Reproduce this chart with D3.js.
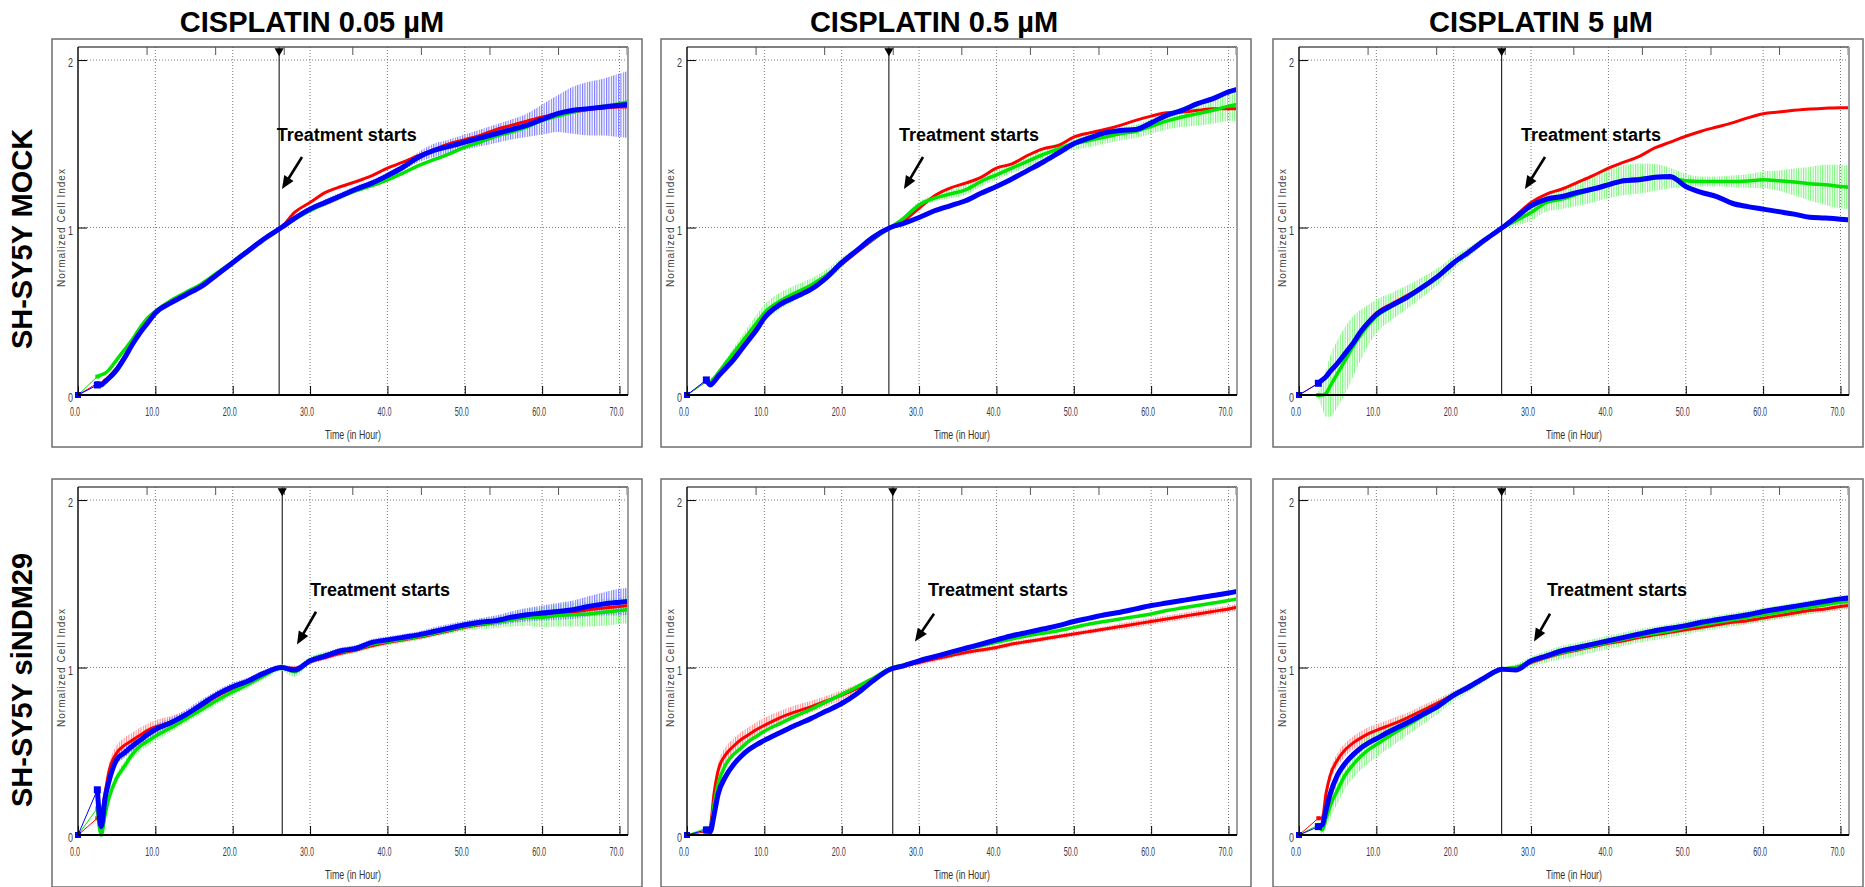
<!DOCTYPE html>
<html>
<head>
<meta charset="utf-8">
<script src="https://cdn.jsdelivr.net/npm/d3@7"></script>
<style>
body{margin:0;background:#fff;}
svg{display:block;font-family:"Liberation Sans",Arial,sans-serif;}
</style>
</head>
<body>
<div id="chart-area"></div>
<script>
// sample times in hours, shared by every panel
let times=[0,2.5,3,3.5,4,5,6,7,8,9,10, 12,14,16,18,20,22,24, 26.3, 28,30,32,34,36,38,40,42,44,46, 48,50,52,54,56,58,60,62,64,66, 68,70, 71.1];

let colTitles=["CISPLATIN 0.05 µM","CISPLATIN 0.5 µM","CISPLATIN 5 µM"];
let rowTitles=["SH-SY5Y MOCK","SH-SY5Y siNDM29"];
let xTicks=[0,10,20,30,40,50,60,70];
let yTicks=[0,1,2];
let treatStart=[26.0,26.1,26.2,26.4,26.6,26.2];

//---------MOCK, 0.05 uM----------
let mockLowRed=[0,0.07,0.07,0.09,0.11,0.16,0.23,0.31,0.38,0.44,0.495, 0.555,0.605,0.655,0.725,0.795,0.865,0.935, 1.0, 1.09,1.15,1.21,1.245,1.275,1.31,1.355,1.39,1.43,1.465, 1.50,1.525,1.55,1.585,1.61,1.635,1.66,1.68,1.69,1.705, 1.715,1.72, 1.72];
let mockLowGreen=[0,0.11,0.12,0.13,0.15,0.21,0.27,0.33,0.40,0.46,0.50, 0.565,0.615,0.665,0.73,0.795,0.865,0.93, 1.0, 1.05,1.10,1.145,1.185,1.22,1.25,1.285,1.325,1.37,1.405, 1.44,1.48,1.51,1.545,1.57,1.60,1.64,1.665,1.69,1.71, 1.725,1.74, 1.75];
let mockLowBlue=[0,0.06,0.06,0.08,0.10,0.15,0.22,0.30,0.37,0.43,0.49, 0.55,0.60,0.65,0.72,0.79,0.86,0.93, 1.0, 1.055,1.11,1.15,1.19,1.23,1.265,1.31,1.36,1.42,1.46, 1.485,1.51,1.535,1.56,1.585,1.61,1.645,1.68,1.70,1.71, 1.72,1.73, 1.735];
let mockLowBlueErr=[0,0.01,0.01,0.01,0.01,0.01,0.01,0.01,0.01,0.01,0.01, 0.01,0.01,0.01,0.01,0.01,0.01,0.01, 0.01, 0.015,0.015,0.02,0.02,0.02,0.02,0.02,0.02,0.03,0.04, 0.04,0.045,0.05,0.055,0.06,0.07,0.09,0.11,0.14,0.16, 0.17,0.19, 0.2];

//---------MOCK, 0.5 uM-----------
let mockMidRed=[0,0.08,0.07,0.09,0.12,0.17,0.23,0.29,0.35,0.41,0.47, 0.545,0.59,0.64,0.70,0.78,0.855,0.925, 1.0, 1.04,1.115,1.19,1.235,1.265,1.30,1.355,1.38,1.43,1.47, 1.49,1.54,1.565,1.585,1.61,1.64,1.665,1.685,1.69,1.70, 1.71,1.71, 1.71];
let mockMidGreen=[0,0.08,0.08,0.10,0.13,0.19,0.25,0.31,0.37,0.43,0.49, 0.56,0.61,0.655,0.715,0.79,0.865,0.93, 1.0, 1.055,1.135,1.175,1.20,1.225,1.275,1.315,1.355,1.395,1.435, 1.47,1.50,1.52,1.54,1.56,1.575,1.605,1.635,1.66,1.68, 1.70,1.725, 1.735];
let mockMidGreenErr=[0,0.01,0.02,0.02,0.02,0.02,0.03,0.04,0.045,0.05,0.05, 0.05,0.045,0.04,0.035,0.03,0.02,0.015, 0.01, 0.015,0.02,0.02,0.025,0.03,0.03,0.03,0.03,0.035,0.035, 0.035,0.035,0.04,0.04,0.04,0.04,0.045,0.05,0.06,0.07, 0.08,0.09, 0.1];
let mockMidBlue=[0,0.09,0.06,0.08,0.11,0.16,0.21,0.27,0.33,0.39,0.46, 0.54,0.585,0.63,0.70,0.79,0.865,0.94, 1.0, 1.025,1.06,1.10,1.13,1.16,1.205,1.245,1.29,1.34,1.39, 1.445,1.50,1.535,1.565,1.58,1.585,1.625,1.67,1.70,1.74, 1.77,1.81, 1.825];

//---------MOCK, 5 uM-------------
let mockHighRed=[0,0.07,0.09,0.11,0.14,0.19,0.25,0.31,0.38,0.44,0.49, 0.545,0.595,0.65,0.715,0.79,0.855,0.925, 1.0, 1.07,1.15,1.20,1.23,1.27,1.31,1.355,1.39,1.425,1.475, 1.51,1.545,1.575,1.60,1.625,1.655,1.68,1.69,1.70,1.708, 1.712,1.715, 1.715];
let mockHighGreen=[0,0,0,0.01,0.05,0.13,0.21,0.29,0.36,0.42,0.47, 0.53,0.585,0.645,0.71,0.79,0.855,0.925, 1.0, 1.04,1.09,1.15,1.17,1.20,1.23,1.26,1.283,1.293,1.30, 1.295,1.28,1.275,1.275,1.275,1.278,1.285,1.28,1.272,1.262, 1.255,1.245, 1.24];
let mockHighGreenErr=[0,0.02,0.08,0.14,0.18,0.2,0.2,0.18,0.15,0.12,0.1, 0.08,0.07,0.06,0.05,0.04,0.03,0.02, 0.01, 0.03,0.05,0.055,0.06,0.07,0.08,0.085,0.09,0.09,0.08, 0.06,0.04,0.03,0.03,0.035,0.04,0.05,0.06,0.08,0.1, 0.12,0.13, 0.13];
let mockHighBlue=[0,0.07,0.09,0.11,0.14,0.19,0.25,0.31,0.38,0.435,0.48, 0.535,0.585,0.645,0.71,0.79,0.855,0.925, 1.0, 1.06,1.13,1.17,1.185,1.21,1.23,1.255,1.28,1.285,1.30, 1.305,1.245,1.21,1.185,1.145,1.125,1.11,1.095,1.08,1.062, 1.057,1.05, 1.045];

//---------siNDM29, 0.05 uM-------
let siLowRed=[0,0.10,0.12,0.25,0.38,0.49,0.535,0.565,0.595,0.625,0.645, 0.675,0.715,0.77,0.83,0.875,0.915,0.96, 1.0, 0.995,1.035,1.06,1.085,1.105,1.13,1.15,1.165,1.18,1.20, 1.22,1.24,1.255,1.27,1.285,1.30,1.31,1.32,1.33,1.345, 1.355,1.365, 1.37];
let siLowRedErr=[0,0.01,0.02,0.03,0.04,0.045,0.045,0.045,0.045,0.04,0.04, 0.035,0.03,0.03,0.025,0.02,0.02,0.015, 0.01, 0.015,0.015,0.015,0.015,0.015,0.015,0.015,0.015,0.015,0.015, 0.015,0.015,0.015,0.015,0.02,0.02,0.02,0.02,0.02,0.02, 0.02,0.02, 0.02];
let siLowGreen=[0,0.16,0,0.12,0.22,0.34,0.41,0.48,0.53,0.56,0.59, 0.64,0.695,0.75,0.805,0.855,0.90,0.95, 1.0, 0.975,1.045,1.075,1.095,1.11,1.14,1.155,1.17,1.185,1.205, 1.225,1.245,1.26,1.27,1.285,1.30,1.30,1.31,1.315,1.32, 1.33,1.34, 1.345];
let siLowGreenErr=[0,0.02,0.02,0.03,0.03,0.03,0.03,0.03,0.03,0.03,0.03, 0.025,0.025,0.025,0.025,0.02,0.02,0.02, 0.02, 0.03,0.02,0.02,0.02,0.02,0.02,0.02,0.02,0.02,0.02, 0.025,0.025,0.03,0.035,0.04,0.05,0.06,0.065,0.07,0.075, 0.08,0.08, 0.08];
let siLowBlue=[0,0.27,0.05,0.22,0.32,0.45,0.49,0.53,0.565,0.60,0.63, 0.67,0.72,0.78,0.84,0.885,0.92,0.965, 1.0, 0.985,1.04,1.07,1.10,1.115,1.15,1.165,1.18,1.195,1.215, 1.235,1.255,1.27,1.28,1.30,1.315,1.325,1.335,1.345,1.365, 1.38,1.39, 1.395];
let siLowBlueErr=[0,0.02,0.02,0.03,0.03,0.03,0.03,0.03,0.03,0.03,0.03, 0.03,0.03,0.03,0.025,0.025,0.02,0.02, 0.01, 0.02,0.02,0.02,0.02,0.02,0.02,0.02,0.02,0.02,0.025, 0.025,0.025,0.025,0.03,0.035,0.04,0.045,0.05,0.055,0.06, 0.07,0.08, 0.08];

//---------siNDM29, 0.5 uM--------
let siMidRed=[0,0.02,0.05,0.25,0.38,0.48,0.53,0.57,0.60,0.63,0.655, 0.70,0.735,0.765,0.80,0.835,0.875,0.925, 0.99, 1.01,1.03,1.05,1.07,1.09,1.105,1.12,1.14,1.155,1.17, 1.185,1.20,1.215,1.23,1.245,1.26,1.275,1.29,1.305,1.32, 1.335,1.35, 1.36];
let siMidRedErr=[0,0.01,0.02,0.03,0.04,0.045,0.045,0.045,0.045,0.045,0.045, 0.04,0.04,0.035,0.03,0.03,0.025,0.02, 0.01, 0.015,0.015,0.015,0.015,0.015,0.015,0.015,0.015,0.015,0.015, 0.015,0.015,0.015,0.015,0.02,0.02,0.02,0.02,0.02,0.02, 0.02,0.02, 0.02];
let siMidGreen=[0,0.04,0.03,0.18,0.30,0.42,0.48,0.52,0.56,0.59,0.62, 0.665,0.71,0.75,0.795,0.84,0.885,0.935, 0.995, 1.015,1.04,1.065,1.085,1.11,1.13,1.15,1.17,1.19,1.205, 1.22,1.24,1.26,1.275,1.29,1.305,1.32,1.34,1.355,1.37, 1.385,1.40, 1.41];
let siMidBlue=[0,0.03,0.02,0.12,0.24,0.35,0.42,0.47,0.51,0.54,0.565, 0.61,0.655,0.695,0.74,0.785,0.845,0.92, 0.99, 1.01,1.04,1.065,1.09,1.115,1.14,1.165,1.19,1.21,1.23, 1.25,1.275,1.295,1.315,1.33,1.35,1.37,1.385,1.40,1.415, 1.43,1.445, 1.455];

//---------siNDM29, 5 uM----------
let siHighRed=[0,0.10,0.10,0.25,0.35,0.45,0.51,0.55,0.58,0.605,0.625, 0.66,0.70,0.745,0.79,0.84,0.885,0.935, 0.99, 1.0,1.03,1.06,1.085,1.105,1.125,1.145,1.16,1.18,1.195, 1.21,1.225,1.24,1.255,1.27,1.28,1.295,1.31,1.325,1.34, 1.35,1.365, 1.37];
let siHighRedErr=[0,0.01,0.02,0.03,0.035,0.04,0.04,0.04,0.04,0.04,0.035, 0.035,0.03,0.03,0.025,0.02,0.02,0.015, 0.01, 0.015,0.015,0.015,0.015,0.015,0.015,0.015,0.015,0.015,0.015, 0.015,0.015,0.015,0.015,0.02,0.02,0.02,0.02,0.02,0.02, 0.02,0.02, 0.02];
let siHighGreen=[0,0.06,0.03,0.10,0.17,0.27,0.36,0.42,0.47,0.51,0.54, 0.60,0.655,0.71,0.765,0.83,0.88,0.935, 0.99, 1.0,1.035,1.065,1.09,1.11,1.13,1.15,1.17,1.19,1.205, 1.22,1.24,1.255,1.27,1.285,1.30,1.315,1.33,1.345,1.36, 1.375,1.39, 1.395];
let siHighGreenErr=[0,0.02,0.03,0.05,0.07,0.08,0.08,0.08,0.08,0.08,0.075, 0.07,0.06,0.05,0.04,0.03,0.025,0.02, 0.01, 0.02,0.03,0.035,0.04,0.04,0.04,0.04,0.04,0.04,0.04, 0.04,0.04,0.04,0.04,0.04,0.04,0.04,0.04,0.04,0.04, 0.04,0.04, 0.04];
let siHighBlue=[0,0.05,0.06,0.15,0.24,0.36,0.43,0.48,0.52,0.55,0.575, 0.625,0.67,0.72,0.77,0.835,0.885,0.94, 0.99, 0.985,1.04,1.07,1.10,1.12,1.14,1.16,1.18,1.20,1.22, 1.235,1.25,1.27,1.285,1.30,1.315,1.335,1.35,1.365,1.38, 1.395,1.41, 1.415];

// "Treatment starts" note, in data units (hours, cell index)
let noteText=[[25.7,1.516],[27.4,1.516],[28.7,1.516],[30.0,1.429],[31.15,1.429],[32.06,1.429]];
let noteTail=[[28.96,1.421],[30.51,1.421],[31.8,1.421],[30.77,1.333],[31.93,1.321],[32.45,1.321]];
let noteTip=[[26.37,1.23],[28.05,1.23],[29.21,1.23],[28.31,1.137],[29.47,1.155],[30.38,1.155]];

let panels=[
	{red:mockLowRed,green:mockLowGreen,blue:mockLowBlue,err:{blue:mockLowBlueErr}},
	{red:mockMidRed,green:mockMidGreen,blue:mockMidBlue,err:{green:mockMidGreenErr}},
	{red:mockHighRed,green:mockHighGreen,blue:mockHighBlue,err:{green:mockHighGreenErr}},
	{red:siLowRed,green:siLowGreen,blue:siLowBlue,err:{red:siLowRedErr,green:siLowGreenErr,blue:siLowBlueErr}},
	{red:siMidRed,green:siMidGreen,blue:siMidBlue,err:{red:siMidRedErr}},
	{red:siHighRed,green:siHighGreen,blue:siHighBlue,err:{red:siHighRedErr,green:siHighGreenErr}}
];

//---------LAYOUT--------------
let frameX=[52,661,1273];
let frameY=[39,479];
let frameW=590,frameH=408;
let plotLeft=26,plotTop=8,plotW=550,plotH=348;
let titleX=[312,934,1541];

let seriesStyle=[
	{key:'red',color:'#ff0000',hatch:'#ff8a8a',width:3},
	{key:'green',color:'#00e400',hatch:'#7cf57c',width:3.5},
	{key:'blue',color:'#0000ff',hatch:'#7a7aff',width:5}
];

let svg=d3.select("#chart-area").append('svg')
	.attr('width',1865)
	.attr('height',887);

let defs=svg.append('defs');
seriesStyle.forEach(function(s){
	let p=defs.append('pattern')
		.attr('id','hatch-'+s.key)
		.attr('patternUnits','userSpaceOnUse')
		.attr('width',2.4).attr('height',10);
	p.append('rect').attr('width',1.1).attr('height',10).attr('fill',s.hatch);
});

//---------SCALES--------------
let x=d3.scaleLinear().domain([0,71.1]).range([0,plotW]);
let y=d3.scaleLinear().domain([0,2.078]).range([plotH,0]);
let xTop=d3.scaleLinear().domain([0,8.02]).range([0,plotW]);//sweep axis on top

let line=d3.line().x(d=>x(d[0])).y(d=>y(d[1])).curve(d3.curveMonotoneX);
let band=d3.area()
	.x(d=>x(d[0]))
	.y0(d=>y(d[1]-d[2]))
	.y1(d=>y(d[1]+d[2]))
	.curve(d3.curveMonotoneX);

//-------TITLES----------------
colTitles.forEach(function(t,i){
	svg.append('text')
		.attr('x',titleX[i]).attr('y',32)
		.attr('text-anchor','middle')
		.attr('font-size','29px').attr('font-weight','bold')
		.text(t);
});
rowTitles.forEach(function(t,i){
	let cy=[239,680][i];
	svg.append('text')
		.attr('transform','translate(32,'+cy+') rotate(-90)')
		.attr('text-anchor','middle')
		.attr('font-size','29px').attr('font-weight','bold')
		.text(t);
});

//-------PANELS----------------
panels.forEach(function(p,i){
	let row=Math.floor(i/3),col=i%3;

	svg.append('rect')
		.attr('x',frameX[col]).attr('y',frameY[row])
		.attr('width',frameW).attr('height',frameH)
		.attr('fill','#fff').attr('stroke','#6e6e6e').attr('stroke-width',1.5);

	let g=svg.append('g')
		.attr('transform','translate('+(frameX[col]+plotLeft)+','+(frameY[row]+plotTop)+')');

	// dotted grid
	g.selectAll('.vgrid').data(xTicks.filter(d=>d>0)).enter().append('line')
		.attr('x1',d=>x(d)).attr('x2',d=>x(d))
		.attr('y1',0).attr('y2',plotH)
		.attr('stroke','#7a7a7a').attr('stroke-dasharray','1,2');
	g.selectAll('.hgrid').data(yTicks.filter(d=>d>0)).enter().append('line')
		.attr('x1',0).attr('x2',plotW)
		.attr('y1',d=>y(d)).attr('y2',d=>y(d))
		.attr('stroke','#7a7a7a').attr('stroke-dasharray','1,2');

	// treatment start line
	g.append('line')
		.attr('x1',x(treatStart[i])).attr('x2',x(treatStart[i]))
		.attr('y1',0).attr('y2',plotH)
		.attr('stroke','#000').attr('stroke-width',1);

	// error bars, drawn as a hatched band
	seriesStyle.forEach(function(s){
		let e=p.err[s.key];
		if(!e) return;
		let pts=times.map((t,k)=>[t,p[s.key][k],e[k]]).slice(1);
		g.append('path')
			.attr('d',band(pts))
			.attr('fill','url(#hatch-'+s.key+')');
	});

	// series
	seriesStyle.forEach(function(s){
		let pts=times.map((t,k)=>[t,p[s.key][k]]);
		g.append('path')
			.attr('d',line(pts.slice(0,2)))
			.attr('fill','none').attr('stroke',s.color).attr('stroke-width',1);
		g.append('path')
			.attr('d',line(pts.slice(1)))
			.attr('fill','none').attr('stroke',s.color)
			.attr('stroke-width',s.width).attr('stroke-linejoin','round');
		let m=s.key==='blue'?7:4;
		g.append('rect')
			.attr('x',x(pts[1][0])-m/2).attr('y',y(pts[1][1])-m/2)
			.attr('width',m).attr('height',m).attr('fill',s.color);
	});
	g.append('rect')
		.attr('x',x(0)-3).attr('y',y(0)-3)
		.attr('width',6).attr('height',6).attr('fill','#0000ff');

	//-------AXES------------------
	let bottom=g.append('g').attr('transform','translate(0,'+plotH+')');
	bottom.call(d3.axisBottom(x).tickValues(d3.range(0,72,1)).tickSize(-4).tickFormat(''));
	bottom.call(d3.axisBottom(x).tickValues(xTicks).tickSize(-9).tickFormat(''));
	bottom.selectAll('.domain').remove();

	let left=g.append('g');
	left.call(d3.axisLeft(y).tickValues(d3.range(0,2.05,0.1)).tickSize(-4).tickFormat(''));
	left.call(d3.axisLeft(y).tickValues(yTicks).tickSize(-9).tickFormat(''));
	left.selectAll('.domain').remove();

	let top=g.append('g').attr('color','#555');
	top.call(d3.axisTop(xTop).tickValues(d3.range(0,8.01,0.125)).tickSize(-4).tickFormat(''));
	top.call(d3.axisTop(xTop).tickValues(d3.range(1,9,1)).tickSize(-8).tickFormat(''));
	top.selectAll('.domain').remove();

	// frame lines of the plot
	g.append('line').attr('x1',0).attr('x2',plotW).attr('y1',0).attr('y2',0)
		.attr('stroke','#555').attr('stroke-width',1.5);
	g.append('line').attr('x1',plotW).attr('x2',plotW).attr('y1',0).attr('y2',plotH)
		.attr('stroke','#a0a0a0').attr('stroke-width',2);
	g.append('line').attr('x1',0).attr('x2',0).attr('y1',0).attr('y2',plotH)
		.attr('stroke','#111').attr('stroke-width',1.5);
	g.append('line').attr('x1',0).attr('x2',plotW).attr('y1',plotH).attr('y2',plotH)
		.attr('stroke','#000').attr('stroke-width',2);

	// treatment marker on the top axis
	g.append('path')
		.attr('d',d3.symbol().type(d3.symbolTriangle).size(36))
		.attr('transform','translate('+x(treatStart[i])+',4) rotate(180)')
		.attr('fill','#000');

	// tick labels
	g.selectAll('.xlab').data(xTicks).enter().append('text')
		.attr('x',d=>x(d)-3).attr('y',plotH+21)
		.attr('text-anchor','middle')
		.attr('font-size','13px').attr('fill','#3a3a48')
		.attr('textLength',d=>d===0?10:14).attr('lengthAdjust','spacingAndGlyphs')
		.text(d=>d.toFixed(1));
	g.selectAll('.ylab').data(yTicks).enter().append('text')
		.attr('x',-5).attr('y',d=>y(d)+7)
		.attr('text-anchor','end')
		.attr('font-size','12px').attr('fill','#3a3a48')
		.attr('textLength',5).attr('lengthAdjust','spacingAndGlyphs')
		.text(d=>d);

	//------LABELS----------------
	g.append('text')
		.attr('x',plotW/2).attr('y',plotH+44)
		.attr('text-anchor','middle')
		.attr('font-size','13px').attr('fill','#333')
		.attr('textLength',56).attr('lengthAdjust','spacingAndGlyphs')
		.text('Time (in Hour)');
	g.append('text')
		.attr('transform','translate(-13,'+y(1)+') rotate(-90)')
		.attr('text-anchor','middle')
		.attr('font-size','10px').attr('letter-spacing','1px').attr('fill','#444')
		.text('Normalized Cell Index');

	//------NOTE------------------
	g.append('text')
		.attr('x',x(noteText[i][0])).attr('y',y(noteText[i][1]))
		.attr('font-size','18px').attr('font-weight','bold')
		.text('Treatment starts');
	let tx=x(noteTail[i][0]),ty=y(noteTail[i][1]);
	let hx=x(noteTip[i][0]),hy=y(noteTip[i][1]);
	let len=Math.hypot(hx-tx,hy-ty),ux=(hx-tx)/len,uy=(hy-ty)/len;
	let bx=hx-ux*13,by=hy-uy*13;
	g.append('line')
		.attr('x1',tx).attr('y1',ty).attr('x2',bx+ux*2).attr('y2',by+uy*2)
		.attr('stroke','#000').attr('stroke-width',2.6);
	g.append('path')
		.attr('d','M'+hx+','+hy+'L'+(bx-uy*5.5)+','+(by+ux*5.5)+'L'+(bx+uy*5.5)+','+(by-ux*5.5)+'Z')
		.attr('fill','#000');
});
</script>
</body>
</html>
